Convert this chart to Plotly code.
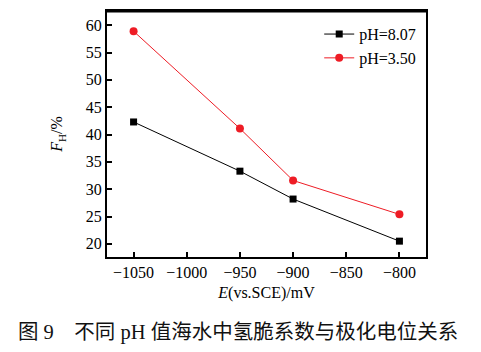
import plotly.graph_objects as go

E = [-1050, -950, -900, -800]
fh_ph807 = [42.3, 33.3, 28.2, 20.5]
fh_ph350 = [58.9, 41.1, 31.6, 25.4]
x_ticks = [-1050, -1000, -950, -900, -850, -800]
y_ticks = [20, 25, 30, 35, 40, 45, 50, 55, 60]

serif = "Liberation Serif, Times New Roman, serif"

fig = go.Figure()
fig.add_trace(go.Scatter(x=E, y=fh_ph807, mode="lines+markers", name="pH=8.07",
                         line=dict(color="black", width=1),
                         marker=dict(symbol="square", size=7, color="black")))
fig.add_trace(go.Scatter(x=E, y=fh_ph350, mode="lines+markers", name="pH=3.50",
                         line=dict(color="#ee1c25", width=1),
                         marker=dict(symbol="circle", size=8, color="#ee1c25")))

axis_common = dict(showline=True, linecolor="black", linewidth=2, mirror=True,
                   ticks="inside", ticklen=5, tickwidth=1.5, tickcolor="black",
                   showgrid=False, zeroline=False,
                   tickfont=dict(family=serif, size=16, color="black"))

fig.update_xaxes(range=[-1075, -775], tickvals=x_ticks,
                 title=dict(text="<i>E</i>(vs.SCE)/mV", font=dict(family=serif, size=16, color="black"), standoff=7),
                 **axis_common)
fig.update_yaxes(range=[17.6, 62.6], tickvals=y_ticks,
                 title=dict(text="<i>F</i><sub>H</sub>/%", font=dict(family=serif, size=16, color="black"), standoff=19),
                 **axis_common)

fig.update_layout(
    width=481, height=352,
    margin=dict(l=107, r=55, t=9, b=95),
    paper_bgcolor="white", plot_bgcolor="white",
    showlegend=True,
    legend=dict(x=0.985, y=0.975, xanchor="right", yanchor="top",
                bgcolor="rgba(0,0,0,0)", font=dict(family=serif, size=16, color="black"),
                tracegroupgap=0, itemwidth=30),
    shapes=[dict(type="line", xref="paper", yref="paper", x0=0, x1=1, y0=1, y1=1,
                 line=dict(color="black", width=3))],
    annotations=[dict(text="图 9　不同 pH 值海水中氢脆系数与极化电位关系",
                      xref="paper", yref="paper", x=(237.5 - 107) / 319, y=-0.307,
                      xanchor="center", yanchor="middle", showarrow=False,
                      font=dict(family="Liberation Serif, Noto Sans CJK SC", size=20.5, color="#111111"))]
)

fig.write_html("out.html")
